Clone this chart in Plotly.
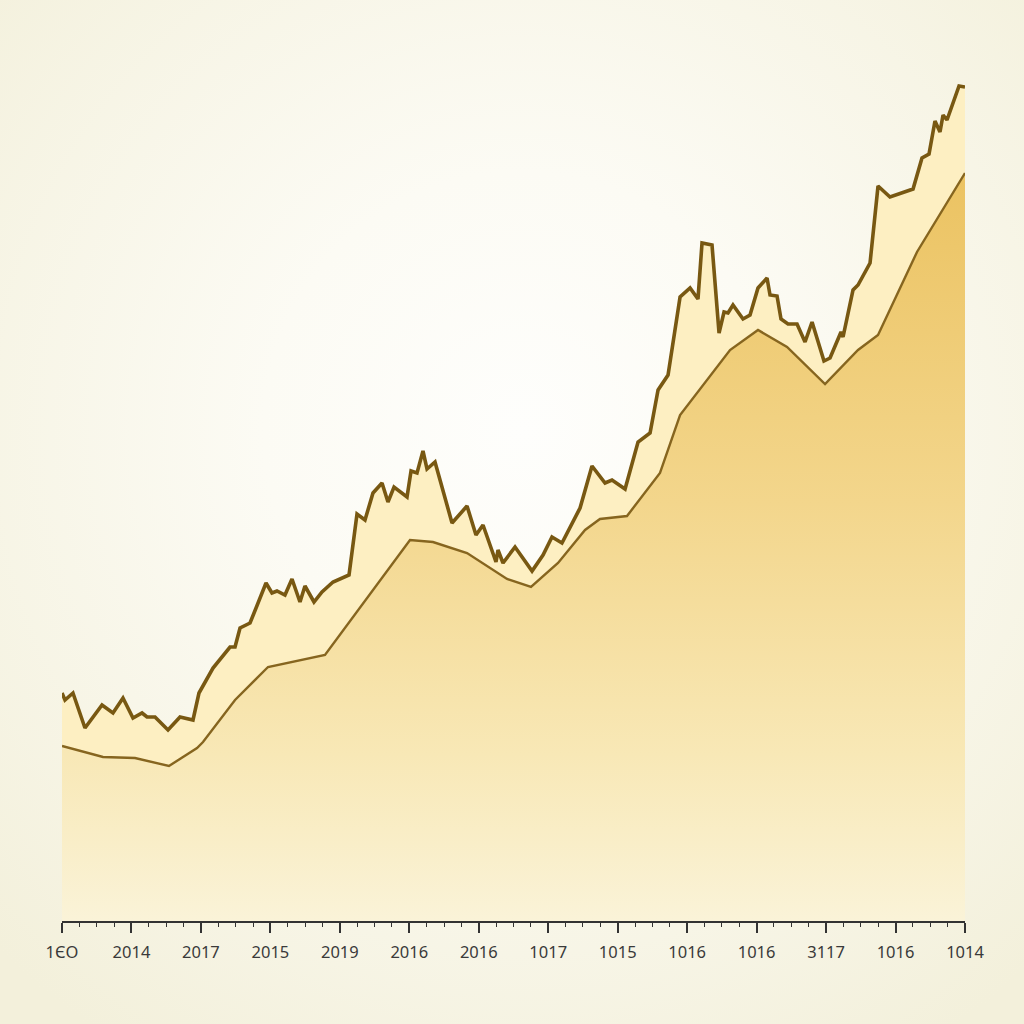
import base64
import plotly.graph_objects as go

# ---- data ----
tick_labels = ["1ЄO", "2014", "2017", "2015", "2019", "2016", "2016",
               "1017", "1015", "1016", "1016", "3117", "1016", "1014"]
tick_positions = list(range(14))

upper_x = [0.0, 0.043, 0.158, 0.331, 0.576, 0.734, 0.878, 1.022, 1.152, 1.224,
           1.339, 1.526, 1.699, 1.886, 1.972, 2.174, 2.419, 2.491, 2.563, 2.707,
           2.937, 3.023, 3.095, 3.210, 3.311, 3.426, 3.498, 3.628, 3.743, 3.902,
           4.132, 4.247, 4.362, 4.477, 4.607, 4.693, 4.780, 4.967, 5.025, 5.111,
           5.197, 5.255, 5.370, 5.615, 5.831, 5.960, 6.061, 6.248, 6.277, 6.349,
           6.522, 6.767, 6.925, 7.054, 7.198, 7.458, 7.630, 7.818, 7.918, 8.106,
           8.293, 8.466, 8.581, 8.725, 8.898, 9.042, 9.156, 9.214, 9.358, 9.459,
           9.531, 9.588, 9.660, 9.804, 9.905, 10.020, 10.150, 10.193, 10.294, 10.351,
           10.452, 10.582, 10.697, 10.798, 10.970, 11.057, 11.215, 11.244, 11.388, 11.460,
           11.633, 11.748, 11.920, 12.252, 12.381, 12.482, 12.568, 12.640, 12.684, 12.741,
           12.914, 13.0]
upper_y = [22.8, 22.1, 22.8, 19.3, 21.6, 20.8, 22.3, 20.3, 20.8, 20.4,
           20.4, 19.1, 20.4, 20.1, 22.8, 25.3, 27.4, 27.4, 29.3, 29.8,
           33.8, 32.8, 33.0, 32.6, 34.2, 31.9, 33.5, 31.9, 32.9, 33.9,
           34.6, 40.7, 40.1, 42.8, 43.8, 41.9, 43.4, 42.4, 45.0, 44.8,
           47.0, 45.2, 45.9, 39.8, 41.5, 38.6, 39.6, 35.9, 37.1, 35.8,
           37.4, 35.0, 36.6, 38.4, 37.8, 41.3, 45.5, 43.8, 44.1, 43.2,
           47.9, 48.8, 53.1, 54.6, 62.4, 63.3, 62.2, 67.8, 67.6, 58.8,
           60.9, 60.8, 61.6, 60.2, 60.6, 63.3, 64.3, 62.6, 62.5, 60.2,
           59.7, 59.7, 57.9, 59.9, 56.0, 56.3, 58.9, 58.4, 63.1, 63.6,
           65.8, 73.5, 72.4, 73.2, 76.3, 76.7, 80.0, 78.9, 80.6, 80.1,
           83.5, 83.4]

lower_x = [0.0, 0.590, 1.051, 1.540, 1.944, 2.030, 2.491, 2.966, 3.786, 5.010,
           5.341, 5.831, 6.407, 6.752, 7.141, 7.530, 7.745, 8.134, 8.609, 8.898,
           9.617, 10.020, 10.438, 10.582, 10.985, 11.460, 11.748, 12.309, 13.0]
lower_y = [17.5, 16.4, 16.3, 15.5, 17.3, 17.9, 22.1, 25.4, 26.6, 38.1,
           37.9, 36.8, 34.2, 33.4, 35.8, 39.1, 40.2, 40.5, 44.8, 50.6,
           57.1, 59.1, 57.4, 56.4, 53.7, 57.1, 58.6, 66.9, 74.8]

# ---- figure ----
W, H = 1024, 1024
ML, MR, MT, MB = 62, 59, 21, 103
PW, PH = W - ML - MR, H - MT - MB

svg = ("<svg xmlns='http://www.w3.org/2000/svg' width='1024' height='1024'>"
       "<defs><radialGradient id='g' cx='0.51' cy='0.42' r='0.72'>"
       "<stop offset='0' stop-color='#fefefc'/>"
       "<stop offset='0.35' stop-color='#fcfbf4'/>"
       "<stop offset='1' stop-color='#f3f0db'/>"
       "</radialGradient></defs>"
       "<rect width='1024' height='1024' fill='url(#g)'/></svg>")
bg_src = "data:image/svg+xml;base64," + base64.b64encode(svg.encode()).decode()

fig = go.Figure()

fig.add_trace(go.Scatter(
    x=lower_x, y=lower_y, mode="lines",
    line=dict(color="#86651f", width=2.4),
    fill="tozeroy",
    fillgradient=dict(
        type="vertical", start=0, stop=76,
        colorscale=[[0.0, "rgb(250,243,216)"],
                    [0.22, "rgb(248,232,182)"],
                    [0.55, "rgb(243,214,140)"],
                    [1.0, "rgb(235,194,96)"]]),
    hoverinfo="skip", showlegend=False))

fig.add_trace(go.Scatter(
    x=upper_x, y=upper_y, mode="lines",
    line=dict(color="#785812", width=3.6),
    fill="tonexty", fillcolor="rgb(253,239,194)",
    hoverinfo="skip", showlegend=False))

fig.update_layout(
    width=W, height=H,
    margin=dict(l=ML, r=MR, t=MT, b=MB),
    paper_bgcolor="#f5f2e0",
    plot_bgcolor="rgba(0,0,0,0)",
    showlegend=False,
    images=[dict(source=bg_src, xref="paper", yref="paper",
                 x=-ML / PW, y=1 + MT / PH, sizex=W / PW, sizey=H / PH,
                 xanchor="left", yanchor="top", sizing="stretch",
                 layer="below")],
    xaxis=dict(range=[0, 13], tickvals=tick_positions, ticktext=tick_labels,
               showgrid=False, zeroline=False,
               showline=True, linecolor="#333333", linewidth=1.5,
               ticks="outside", ticklen=10, tickwidth=1.5, tickcolor="#333333",
               ticklabelstandoff=5,
               minor=dict(dtick=0.25, ticks="outside", ticklen=4,
                          tickwidth=1, tickcolor="#333333", showgrid=False),
               tickfont=dict(family="Noto Sans, Open Sans, sans-serif", size=16.5,
                             color="#3a3a3a")),
    yaxis=dict(range=[0, 90], visible=False, showgrid=False, zeroline=False),
)

fig.write_html("out.html")
